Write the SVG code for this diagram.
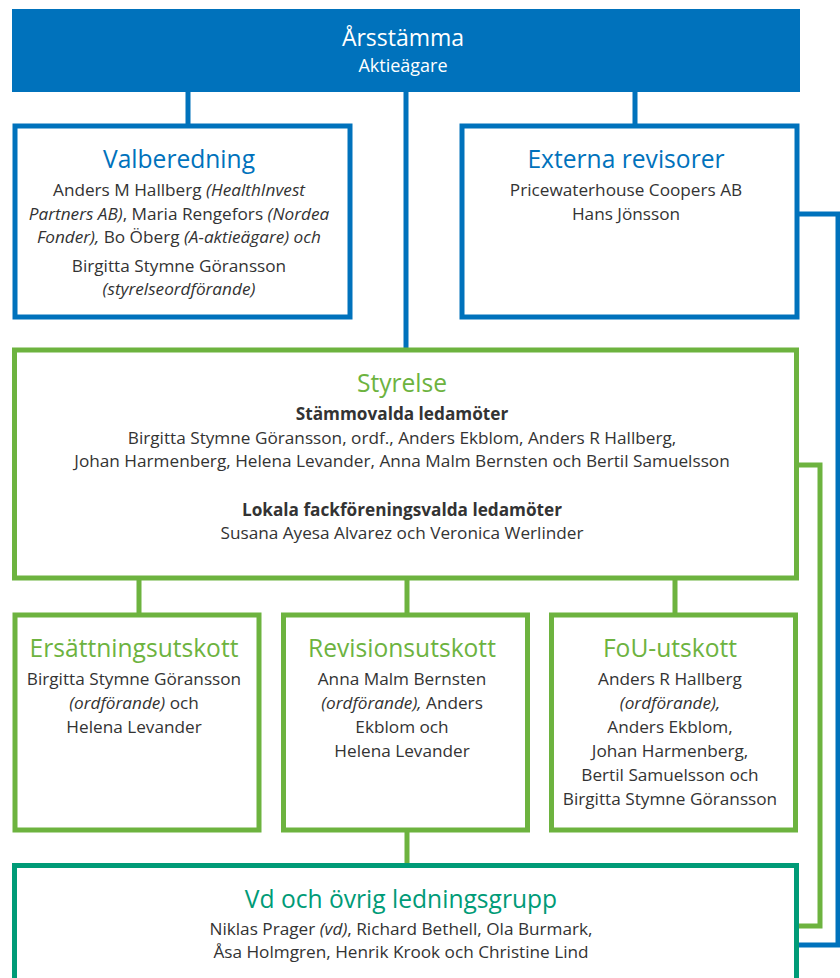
<svg xmlns="http://www.w3.org/2000/svg" width="840" height="978" viewBox="0 0 840 978">
<style>
text{font-family:"Open Sans","Noto Sans","Liberation Sans",sans-serif;text-anchor:middle}
.b{fill:#333333;font-size:17.2px}
.i{font-style:italic}
.bold{font-weight:bold}
.t{font-size:24.6px}
.tb{fill:#0072bc}
.tg{fill:#6db33f}
.tt{fill:#009b77}
.bx{fill:#ffffff;stroke-width:5}
.blue{stroke:#0072bc}
.green{stroke:#6db33f}
.teal{stroke:#009b77}
.c{fill:none;stroke-width:5}
</style>
<g id="connectors">
<path class="c blue" d="M188 92V126M406 92V350M635 92V126M797 214H838V945H797"/>
<path class="c green" d="M797 465H820V926H797M139 578V615M407 578V615M675 578V615M407 830V866"/>
</g>
<g id="arsstamma">
<rect x="12" y="9" width="788" height="83" fill="#0072bc"/>
<text x="403" y="46" fill="#ffffff" font-size="23">Årsstämma</text>
<text x="403" y="72" fill="#ffffff" font-size="18">Aktieägare</text>
</g>
<g id="valberedning">
<rect class="bx blue" x="15" y="126" width="335" height="191"/>
<text class="t tb" x="179" y="168">Valberedning</text>
<text class="b" x="179" y="196">Anders M Hallberg <tspan class="i">(HealthInvest</tspan></text>
<text class="b" x="179" y="220"><tspan class="i">Partners AB)</tspan>, Maria Rengefors <tspan class="i">(Nordea</tspan></text>
<text class="b" x="179" y="243"><tspan class="i">Fonder),</tspan> Bo Öberg <tspan class="i">(A-aktieägare) och</tspan></text>
<text class="b" x="179" y="272">Birgitta Stymne Göransson</text>
<text class="b i" x="179" y="295">(styrelseordförande)</text>
</g>
<g id="externa-revisorer">
<rect class="bx blue" x="462" y="126" width="335" height="191"/>
<text class="t tb" x="626" y="168">Externa revisorer</text>
<text class="b" x="626" y="196">Pricewaterhouse Coopers AB</text>
<text class="b" x="626" y="220">Hans Jönsson</text>
</g>
<g id="styrelse">
<rect class="bx green" x="14.5" y="350" width="782" height="228"/>
<text class="t tg" x="402" y="392">Styrelse</text>
<text class="b bold" x="402" y="420">Stämmovalda ledamöter</text>
<text class="b" x="402" y="444">Birgitta Stymne Göransson, ordf., Anders Ekblom, Anders R Hallberg,</text>
<text class="b" x="402" y="467">Johan Harmenberg, Helena Levander, Anna Malm Bernsten och Bertil Samuelsson</text>
<text class="b bold" x="402" y="516">Lokala fackföreningsvalda ledamöter</text>
<text class="b" x="402" y="539">Susana Ayesa Alvarez och Veronica Werlinder</text>
</g>
<g id="ersattningsutskott">
<rect class="bx green" x="15" y="615" width="244" height="215"/>
<text class="t tg" x="134" y="657">Ersättningsutskott</text>
<text class="b" x="134" y="685">Birgitta Stymne Göransson</text>
<text class="b" x="134" y="709"><tspan class="i">(ordförande)</tspan> och</text>
<text class="b" x="134" y="733">Helena Levander</text>
</g>
<g id="revisionsutskott">
<rect class="bx green" x="283.5" y="615" width="244" height="215"/>
<text class="t tg" x="402" y="657">Revisionsutskott</text>
<text class="b" x="402" y="685">Anna Malm Bernsten</text>
<text class="b" x="402" y="709"><tspan class="i">(ordförande),</tspan> Anders</text>
<text class="b" x="402" y="733">Ekblom och</text>
<text class="b" x="402" y="757">Helena Levander</text>
</g>
<g id="fou-utskott">
<rect class="bx green" x="551.5" y="615" width="244" height="215"/>
<text class="t tg" x="670" y="657">FoU-utskott</text>
<text class="b" x="670" y="685">Anders R Hallberg</text>
<text class="b i" x="670" y="709">(ordförande),</text>
<text class="b" x="670" y="733">Anders Ekblom,</text>
<text class="b" x="670" y="757">Johan Harmenberg,</text>
<text class="b" x="670" y="781">Bertil Samuelsson och</text>
<text class="b" x="670" y="805">Birgitta Stymne Göransson</text>
</g>
<g id="ledningsgrupp">
<rect class="bx teal" x="14.5" y="865.5" width="782" height="130"/>
<text class="t tt" x="401" y="908">Vd och övrig ledningsgrupp</text>
<text class="b" x="401" y="935">Niklas Prager <tspan class="i">(vd)</tspan>, Richard Bethell, Ola Burmark,</text>
<text class="b" x="401" y="958">Åsa Holmgren, Henrik Krook och Christine Lind</text>
</g>
</svg>
